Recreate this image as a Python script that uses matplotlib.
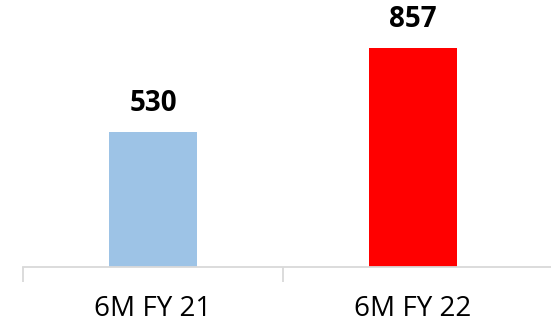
import matplotlib.pyplot as plt
from matplotlib.ticker import FixedLocator

periods = ["6M FY 21", "6M FY 22"]
values = [530, 857]
colors = ["#9DC3E6", "#FF0000"]

plt.rcParams['font.family'] = ['Open Sans', 'DejaVu Sans']

cat_px = 260.0
left_px = 23.0
fig = plt.figure(figsize=(5.51, 3.3), dpi=100)
ax = fig.add_axes([left_px / 551, 63 / 330, (551 - left_px) / 551, 255 / 330])

x = list(range(len(periods)))
bars = ax.bar(x, values, width=0.335, color=colors)

for rect, v in zip(bars, values):
    ax.text(rect.get_x() + rect.get_width() / 2, v + 55, f"{v}",
            ha='center', va='bottom', fontsize=20, fontweight='bold')

ax.set_xlim(-0.5, -0.5 + (551 - left_px) / cat_px)
ax.set_ylim(0, 1000)

for side in ['top', 'right', 'left']:
    ax.spines[side].set_visible(False)
ax.spines['bottom'].set_color('#D9D9D9')
ax.spines['bottom'].set_linewidth(1.3)

ax.set_yticks([])
ax.set_xticks(x)
ax.set_xticklabels(periods, fontsize=20)
ax.tick_params(axis='x', which='major', length=0, pad=20)
ax.xaxis.set_minor_locator(FixedLocator([-0.5, 0.5]))
ax.tick_params(axis='x', which='minor', length=11, color='#D9D9D9', width=1.3)

fig.savefig('out.png', dpi=100)
